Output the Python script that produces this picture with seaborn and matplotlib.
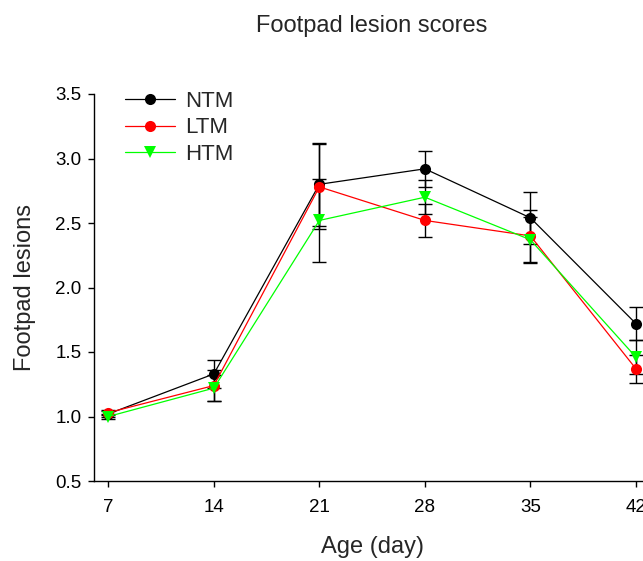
import matplotlib
matplotlib.use("Agg")
import matplotlib.pyplot as plt
import seaborn as sns
import pandas as pd
from matplotlib.lines import Line2D

days = [7, 14, 21, 28, 35, 42]
ntm = [1.02, 1.33, 2.80, 2.92, 2.54, 1.72]
ltm = [1.03, 1.24, 2.78, 2.52, 2.40, 1.37]
htm = [1.00, 1.22, 2.52, 2.70, 2.37, 1.46]
ntm_err = [0.02, 0.11, 0.32, 0.14, 0.20, 0.13]
ltm_err = [0.02, 0.12, 0.33, 0.13, 0.20, 0.11]
htm_err = [0.02, 0.10, 0.32, 0.13, 0.18, 0.13]
groups = ["NTM", "LTM", "HTM"]
colors = {"NTM": "#000000", "LTM": "#ff0000", "HTM": "#00ff00"}
markers = {"NTM": "o", "LTM": "o", "HTM": "v"}

sns.set_style("ticks")
plt.rcParams['font.family'] = ['Liberation Sans', 'DejaVu Sans']

rows = []
for g, vals, errs in zip(groups, [ntm, ltm, htm], [ntm_err, ltm_err, htm_err]):
    for d, v, e in zip(days, vals, errs):
        rows.append({"day": d, "value": v, "err": e, "group": g})
df = pd.DataFrame(rows)

fig = plt.figure(figsize=(6.43, 5.61), dpi=100)
ax = fig.add_axes([94/643, 80/561, 557/643, 387/561])

for g in groups:
    sub = df[df.group == g]
    ax.errorbar(sub.day, sub.value, yerr=sub.err, fmt="none", ecolor="black",
                elinewidth=1.0, capsize=5, capthick=1.0, zorder=1)

sns.lineplot(data=df, x="day", y="value", hue="group", style="group",
             palette=colors, markers=markers, dashes=False, ax=ax,
             linewidth=0.9, markersize=8, markeredgewidth=0, legend=False, zorder=3)

ax.set_xlim(6.05, 43)
ax.set_ylim(0.5, 3.5)
ax.set_xticks(days)
ax.set_yticks([0.5, 1.0, 1.5, 2.0, 2.5, 3.0, 3.5])
ax.set_yticklabels([f"{v:.1f}" for v in [0.5, 1.0, 1.5, 2.0, 2.5, 3.0, 3.5]])
ax.tick_params(axis="both", labelsize=13.5, length=4, width=1, direction="out", colors="black")
ax.tick_params(axis="x", pad=9)
ax.tick_params(axis="y", pad=5)
for s in ["top", "right"]:
    ax.spines[s].set_visible(False)
for s in ["left", "bottom"]:
    ax.spines[s].set_linewidth(1.0)
    ax.spines[s].set_color("black")

ax.set_xlabel("Age (day)", fontsize=17, labelpad=14)
ax.set_ylabel("Footpad lesions", fontsize=17, labelpad=14)
fig.text(372/643, 1 - 26/561, "Footpad lesion scores", ha="center", va="center", fontsize=17)

handles = [Line2D([0], [0], color=colors[g], marker=markers[g], markersize=8,
                  markeredgewidth=0, linewidth=0.9) for g in groups]
ax.legend(handles, groups, loc="upper left", bbox_to_anchor=(0.02, 1.06), frameon=False,
          fontsize=16, handlelength=2.25, handletextpad=0.45, labelspacing=0.25)

fig.savefig("out.png", dpi=100)
